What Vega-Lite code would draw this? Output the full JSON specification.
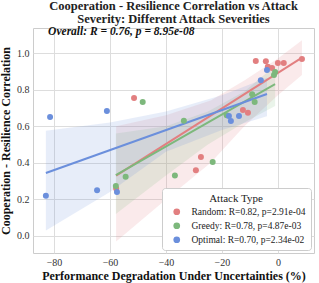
{
  "$schema": "https://vega.github.io/schema/vega-lite/v6.json",
  "width": 281,
  "height": 225,
  "autosize": "none",
  "padding": {"left": 33, "top": 28, "right": 5, "bottom": 30},
  "background": "white",
  "config": {
    "font": "Liberation Serif",
    "view": {"stroke": "#cccccc", "strokeWidth": 1},
    "axis": {
      "domain": false,
      "ticks": false,
      "gridColor": "#dddddd",
      "gridWidth": 1,
      "labelFont": "Liberation Serif",
      "labelFontSize": 10,
      "labelColor": "#333333",
      "titleFont": "Liberation Serif",
      "titleFontSize": 12,
      "titleFontWeight": "bold",
      "titleColor": "#111111"
    },
    "legend": {
      "labelFont": "Liberation Serif",
      "titleFont": "Liberation Serif"
    }
  },
  "title": {
    "text": ["Cooperation - Resilience Correlation vs Attack", "Severity: Different Attack Severities"],
    "font": "Liberation Serif",
    "fontSize": 12.5,
    "fontWeight": "bold",
    "color": "#222222",
    "anchor": "middle",
    "offset": 1,
    "lineHeight": 12.5
  },
  "resolve": {"legend": {"color": "independent"}},
  "datasets": {
    "points": [
      {"type": "Random", "x": -57.8, "y": 0.26},
      {"type": "Random", "x": -51.4, "y": 0.754},
      {"type": "Random", "x": -29.3, "y": 0.36},
      {"type": "Random", "x": -27.5, "y": 0.432},
      {"type": "Random", "x": -12.5, "y": 0.689},
      {"type": "Random", "x": -10.7, "y": 0.674},
      {"type": "Random", "x": -7.9, "y": 0.956},
      {"type": "Random", "x": -4.3, "y": 0.955},
      {"type": "Random", "x": -3.6, "y": 0.925},
      {"type": "Random", "x": -2.1, "y": 0.918},
      {"type": "Random", "x": 0.0, "y": 0.946},
      {"type": "Random", "x": 2.1, "y": 0.946},
      {"type": "Random", "x": 8.6, "y": 0.967},
      {"type": "Greedy", "x": -57.9, "y": 0.273},
      {"type": "Greedy", "x": -54.4, "y": 0.324},
      {"type": "Greedy", "x": -48.3, "y": 0.733},
      {"type": "Greedy", "x": -36.8, "y": 0.33},
      {"type": "Greedy", "x": -33.6, "y": 0.63},
      {"type": "Greedy", "x": -23.3, "y": 0.405},
      {"type": "Greedy", "x": -18.3, "y": 0.66},
      {"type": "Greedy", "x": -9.2, "y": 0.775},
      {"type": "Greedy", "x": -8.3, "y": 0.733},
      {"type": "Greedy", "x": -1.4, "y": 0.88},
      {"type": "Greedy", "x": -1.0, "y": 0.896},
      {"type": "Optimal", "x": -82.9, "y": 0.22},
      {"type": "Optimal", "x": -81.4, "y": 0.65},
      {"type": "Optimal", "x": -64.6, "y": 0.25},
      {"type": "Optimal", "x": -61.1, "y": 0.683},
      {"type": "Optimal", "x": -57.5, "y": 0.24},
      {"type": "Optimal", "x": -17.5, "y": 0.656},
      {"type": "Optimal", "x": -16.8, "y": 0.628},
      {"type": "Optimal", "x": -13.9, "y": 0.656},
      {"type": "Optimal", "x": -6.1, "y": 0.852},
      {"type": "Optimal", "x": -3.9, "y": 0.907}
    ],
    "lines": [
      {"type": "Random", "x": -57.8, "y": 0.33},
      {"type": "Random", "x": 8.6, "y": 0.975},
      {"type": "Greedy", "x": -57.9, "y": 0.333},
      {"type": "Greedy", "x": -1.0, "y": 0.83},
      {"type": "Optimal", "x": -82.9, "y": 0.344},
      {"type": "Optimal", "x": -3.9, "y": 0.776}
    ],
    "bands": [
      {"type": "Random", "x": -57.8, "lo": -0.03, "hi": 0.60},
      {"type": "Random", "x": -40, "lo": 0.20, "hi": 0.66},
      {"type": "Random", "x": -24, "lo": 0.40, "hi": 0.74},
      {"type": "Random", "x": -12, "lo": 0.60, "hi": 0.85},
      {"type": "Random", "x": 0, "lo": 0.77, "hi": 0.97},
      {"type": "Random", "x": 8.6, "lo": 0.88, "hi": 1.07},
      {"type": "Greedy", "x": -57.9, "lo": 0.12, "hi": 0.56},
      {"type": "Greedy", "x": -40, "lo": 0.33, "hi": 0.60},
      {"type": "Greedy", "x": -25, "lo": 0.50, "hi": 0.68},
      {"type": "Greedy", "x": -12, "lo": 0.62, "hi": 0.79},
      {"type": "Greedy", "x": -1.0, "lo": 0.71, "hi": 0.93},
      {"type": "Optimal", "x": -82.9, "lo": 0.03, "hi": 0.575},
      {"type": "Optimal", "x": -60, "lo": 0.24, "hi": 0.62},
      {"type": "Optimal", "x": -40, "lo": 0.46, "hi": 0.68},
      {"type": "Optimal", "x": -20, "lo": 0.58, "hi": 0.77},
      {"type": "Optimal", "x": -3.9, "lo": 0.655, "hi": 0.865}
    ],
    "note": [
      {"label": "Overall: R = 0.76, p = 8.95e-08"}
    ]
  },
  "layer": [
    {
      "data": {"name": "bands"},
      "mark": {"type": "area", "opacity": 0.16},
      "encoding": {
        "x": {"field": "x", "type": "quantitative"},
        "y": {"field": "lo", "type": "quantitative"},
        "y2": {"field": "hi"},
        "color": {"field": "type", "type": "nominal", "legend": null},
        "detail": {"field": "type"}
      }
    },
    {
      "data": {"name": "lines"},
      "mark": {"type": "line", "strokeWidth": 2},
      "encoding": {
        "x": {"field": "x", "type": "quantitative"},
        "y": {"field": "y", "type": "quantitative"},
        "color": {"field": "type", "type": "nominal", "legend": null},
        "detail": {"field": "type"}
      }
    },
    {
      "data": {"name": "points"},
      "mark": {"type": "circle", "size": 36, "opacity": 1},
      "encoding": {
        "x": {
          "field": "x", "type": "quantitative",
          "scale": {"domain": [-87.5, 12.9], "nice": false, "zero": false},
          "axis": {"values": [-80, -60, -40, -20, 0], "title": "Performance Degradation Under Uncertainties (%)", "labelPadding": 4, "titlePadding": 3, "labelFont": "Liberation Serif", "titleFont": "Liberation Serif"}
        },
        "y": {
          "field": "y", "type": "quantitative",
          "scale": {"domain": [-0.093, 1.137], "nice": false, "zero": false},
          "axis": {"values": [0, 0.2, 0.4, 0.6, 0.8, 1.0], "format": ".1f", "title": "Cooperation - Resilience Correlation", "labelPadding": 4, "titlePadding": 4, "labelFont": "Liberation Serif", "titleFont": "Liberation Serif"}
        },
        "color": {
          "field": "type", "type": "nominal",
          "scale": {"domain": ["Random", "Greedy", "Optimal"], "range": ["#e27f80", "#7db87c", "#6b8fdc"]},
          "legend": {
            "title": "Attack Type",
            "orient": "bottom-right",
            "offset": 3,
            "symbolType": "circle",
            "symbolSize": 45,
            "symbolOpacity": 1,
            "symbolStrokeWidth": 0,
            "symbolOffset": 5,
            "titleFontSize": 11,
            "titleFontWeight": "normal",
            "titleAnchor": "middle",
            "titleColor": "#222222",
            "titlePadding": 3,
            "labelFontSize": 9.5,
            "labelColor": "#222222",
            "labelOffset": 10,
            "labelExpr": "datum.label == 'Random' ? 'Random: R=0.82, p=2.91e-04' : datum.label == 'Greedy' ? 'Greedy: R=0.78, p=4.87e-03' : 'Optimal: R=0.70, p=2.34e-02'",
            "fillColor": "white",
            "strokeColor": "#cccccc",
            "cornerRadius": 3,
            "padding": 5,
            "rowPadding": 3
          }
        }
      }
    },
    {
      "data": {"name": "note"},
      "mark": {"type": "text", "align": "left", "baseline": "alphabetic", "fontSize": 11.5, "fontStyle": "italic", "fontWeight": "bold", "font": "Liberation Serif", "color": "#111111"},
      "encoding": {
        "x": {"datum": -82.1, "type": "quantitative"},
        "y": {"datum": 1.098, "type": "quantitative"},
        "text": {"field": "label"}
      }
    }
  ]
}
